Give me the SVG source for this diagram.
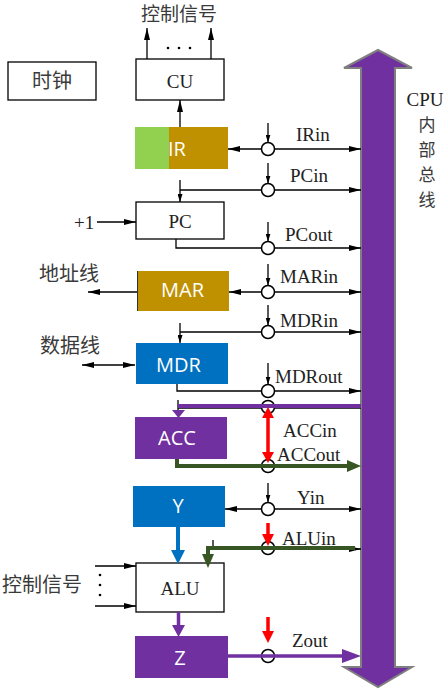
<svg xmlns="http://www.w3.org/2000/svg" width="448" height="690" viewBox="0 0 448 690">
<defs>
<style>
.ln{stroke:#000;stroke-width:1.3;fill:none}
.bx{fill:#fff;stroke:#000;stroke-width:1.3}
.ser{font-family:"Liberation Serif","Times New Roman",serif;font-size:19px;fill:#222}
.cjk{font-family:"Noto Sans CJK SC",sans-serif;font-size:20px;fill:#3a3a3a}
.vt{font-family:"Noto Sans CJK SC",sans-serif;font-size:17px;fill:#3a3a3a;text-anchor:middle}
.wt{font-family:"Open Sans","Noto Sans",sans-serif;font-size:20px;fill:#fff;text-anchor:middle}
.cc{fill:#fff;stroke:#000;stroke-width:1.5}
.mid{text-anchor:middle}
</style>
<marker id="ah" viewBox="0 0 12 6" refX="12" refY="3" markerWidth="12" markerHeight="6" markerUnits="userSpaceOnUse" orient="auto-start-reverse"><path d="M0,0 L12,3 L0,6 z" fill="#000"/></marker>
<marker id="sh" viewBox="0 0 8 5" refX="8" refY="2.5" markerWidth="8" markerHeight="5" markerUnits="userSpaceOnUse" orient="auto"><path d="M0,0 L8,2.5 L0,5 z" fill="#000"/></marker>
</defs>
<rect width="448" height="690" fill="#fff"/>

<g id="bus">
<polygon points="361,68 344,68 378,50 412,68 395,68 395,667 412,667 378,687 344,667 361,667" fill="#7030A0" stroke="#7f7f7f" stroke-width="2"/>
<text class="ser mid" x="425" y="106">CPU</text>
<text class="vt" x="427" y="131">内</text>
<text class="vt" x="427" y="156">部</text>
<text class="vt" x="427" y="181">总</text>
<text class="vt" x="427" y="206">线</text>
</g>

<g id="clock"><rect class="bx" x="8" y="62" width="88" height="38"/><text class="cjk mid" x="52" y="88">时钟</text></g>
<g id="CU"><rect class="bx" x="136" y="59" width="88" height="41"/><text class="ser mid" x="180" y="88">CU</text></g>
<g id="IR"><rect x="135" y="127" width="34" height="42" fill="#92D050"/><rect x="169" y="127" width="59" height="42" fill="#BF9000"/><text class="wt" x="177" y="156">IR</text></g>
<g id="PC"><rect class="bx" x="136" y="202" width="88" height="37"/><text class="ser mid" x="180" y="228">PC</text></g>
<g id="MAR"><rect x="137" y="271" width="92" height="40" fill="#BF9000"/><line x1="137.5" y1="271" x2="137.5" y2="311" stroke="#333" stroke-width="1"/><text class="wt" x="182.5" y="297">MAR</text></g>
<g id="MDR"><rect x="136" y="343" width="92" height="41" fill="#0070C0"/><text class="wt" x="178.5" y="372">MDR</text></g>
<g id="ACC"><rect x="135" y="417" width="92" height="42" fill="#7030A0"/><text class="wt" x="177" y="445">ACC</text></g>
<g id="Y"><rect x="133" y="486" width="92" height="41" fill="#0070C0"/><text class="wt" x="178" y="513">Y</text></g>
<g id="ALU"><rect class="bx" x="136" y="563" width="88" height="49"/><text class="ser mid" x="180" y="595">ALU</text></g>
<g id="Z"><rect x="135" y="636" width="93" height="42" fill="#7030A0"/><text class="wt" x="180" y="665">Z</text></g>

<g id="connectors">
<!-- CU outputs -->
<line class="ln" x1="147" y1="59" x2="147" y2="28" marker-end="url(#ah)"/>
<line class="ln" x1="211" y1="59" x2="211" y2="28" marker-end="url(#ah)"/>
<circle cx="168" cy="48" r="1.3" fill="#000"/><circle cx="179" cy="48" r="1.3" fill="#000"/><circle cx="190" cy="48" r="1.3" fill="#000"/>
<text class="cjk mid" x="179" y="21" style="font-size:19px">控制信号</text>
<!-- IR to CU -->
<line class="ln" x1="180" y1="127" x2="180" y2="100" marker-end="url(#ah)"/>
<!-- IRin -->
<line class="ln" x1="228" y1="149" x2="361" y2="149" marker-start="url(#ah)" marker-end="url(#ah)"/>
<circle class="cc" cx="268" cy="149" r="6.5"/>
<line class="ln" x1="268" y1="123" x2="268" y2="142.5" marker-end="url(#sh)"/>
<text class="ser" x="296" y="141">IRin</text>
<!-- PCin -->
<line class="ln" x1="180" y1="190" x2="361" y2="190" marker-end="url(#ah)"/>
<line class="ln" x1="180" y1="180" x2="180" y2="202" marker-end="url(#sh)"/>
<circle class="cc" cx="268" cy="190" r="6.5"/>
<line class="ln" x1="268" y1="163" x2="268" y2="183.5" marker-end="url(#sh)"/>
<text class="ser" x="290" y="182">PCin</text>
<!-- +1 -->
<text class="ser" x="74" y="229">+1</text>
<line class="ln" x1="97" y1="222" x2="136" y2="222" marker-end="url(#ah)"/>
<!-- PCout -->
<path class="ln" d="M176,239 V248 H361" marker-end="url(#ah)"/>
<circle class="cc" cx="268" cy="248" r="6.5"/>
<line class="ln" x1="268" y1="222" x2="268" y2="241.5" marker-end="url(#sh)"/>
<text class="ser" x="285" y="241">PCout</text>
<!-- MAR -->
<text class="cjk" x="39" y="281">地址线</text>
<line class="ln" x1="137" y1="292" x2="88" y2="292" marker-end="url(#ah)"/>
<line class="ln" x1="229" y1="292" x2="361" y2="292" marker-start="url(#ah)" marker-end="url(#ah)"/>
<circle class="cc" cx="268" cy="292" r="6.5"/>
<line class="ln" x1="268" y1="264" x2="268" y2="285.5" marker-end="url(#sh)"/>
<text class="ser" x="280" y="283">MARin</text>
<!-- MDRin -->
<line class="ln" x1="180" y1="332" x2="361" y2="332" marker-end="url(#ah)"/>
<line class="ln" x1="180" y1="323" x2="180" y2="343" marker-end="url(#sh)"/>
<circle class="cc" cx="268" cy="332" r="6.5"/>
<line class="ln" x1="268" y1="305" x2="268" y2="325.5" marker-end="url(#sh)"/>
<text class="ser" x="280" y="327">MDRin</text>
<!-- data line -->
<text class="cjk" x="40" y="353">数据线</text>
<line class="ln" x1="82" y1="365" x2="135" y2="365" marker-start="url(#ah)" marker-end="url(#ah)"/>
<!-- MDRout -->
<path class="ln" d="M177,384 V391 H361" marker-end="url(#ah)"/>
<circle class="cc" cx="268" cy="391" r="6.5"/>
<line class="ln" x1="268" y1="363" x2="268" y2="384.5" marker-end="url(#sh)"/>
<text class="ser" x="275" y="383">MDRout</text>
<!-- ACCin -->
<line class="ln" x1="178" y1="408" x2="361" y2="408"/>
<line class="ln" x1="178" y1="400" x2="178" y2="411"/>
<circle class="cc" cx="268" cy="407" r="6.5"/>
<line x1="178" y1="406" x2="361" y2="406" stroke="#7030A0" stroke-width="4"/>
<polygon points="172,410 185,410 178.5,418" fill="#7030A0"/>
<text class="ser" x="283" y="437">ACCin</text>
<!-- ACCout -->
<circle class="cc" cx="268" cy="466" r="6.5"/>
<path d="M177,459 V466 H349" fill="none" stroke="#375623" stroke-width="4"/>
<polygon points="347,460 361,466 347,472" fill="#375623"/>
<text class="ser" x="277" y="461">ACCout</text>
<!-- red double -->
<line x1="268" y1="416" x2="268" y2="454" stroke="#FF0000" stroke-width="3.5"/>
<polygon points="262,418 268,407 274,418" fill="#FF0000"/>
<polygon points="262,452 268,463 274,452" fill="#FF0000"/>
<!-- Yin -->
<line class="ln" x1="225" y1="509" x2="361" y2="509" marker-start="url(#ah)" marker-end="url(#ah)"/>
<circle class="cc" cx="268" cy="509" r="6.5"/>
<line class="ln" x1="268" y1="483" x2="268" y2="502.5" marker-end="url(#sh)"/>
<text class="ser" x="297" y="504">Yin</text>
<!-- Y to ALU -->
<line x1="178" y1="527" x2="178" y2="551" stroke="#0070C0" stroke-width="4"/>
<polygon points="171,550 185,550 178,564" fill="#0070C0"/>
<!-- ALUin -->
<circle class="cc" cx="268" cy="548" r="6.5"/>
<line class="ln" x1="213" y1="549" x2="361" y2="549" marker-end="url(#ah)"/>
<line class="ln" x1="213" y1="540" x2="213" y2="549"/>
<path d="M355,548 H208 V556" fill="none" stroke="#375623" stroke-width="4"/>
<polygon points="202,554 214,554 208,568" fill="#375623"/>
<line x1="268" y1="523" x2="268" y2="536" stroke="#FF0000" stroke-width="3.5"/>
<polygon points="262,534 274,534 268,546" fill="#FF0000"/>
<text class="ser" x="282" y="545">ALUin</text>
<!-- ALU control -->
<text class="cjk" x="2" y="592">控制信号</text>
<line class="ln" x1="95" y1="566" x2="136" y2="566" marker-end="url(#ah)"/>
<line class="ln" x1="95" y1="606" x2="136" y2="606" marker-end="url(#ah)"/>
<circle cx="100" cy="575" r="1.3" fill="#000"/><circle cx="100" cy="585" r="1.3" fill="#000"/><circle cx="100" cy="595" r="1.3" fill="#000"/>
<!-- ALU to Z -->
<line x1="178.5" y1="612" x2="178.5" y2="626" stroke="#7030A0" stroke-width="3.5"/>
<polygon points="172,625 185,625 178.5,637" fill="#7030A0"/>
<!-- Zout -->
<circle class="cc" cx="268" cy="656" r="6.5"/>
<line x1="228" y1="656" x2="344" y2="656" stroke="#7030A0" stroke-width="3.5"/>
<polygon points="342,649 361,656 342,663" fill="#7030A0"/>
<line x1="268" y1="617" x2="268" y2="633" stroke="#FF0000" stroke-width="3.5"/>
<polygon points="262,631 274,631 268,643" fill="#FF0000"/>
<text class="ser" x="292" y="647">Zout</text>
</g>
</svg>
